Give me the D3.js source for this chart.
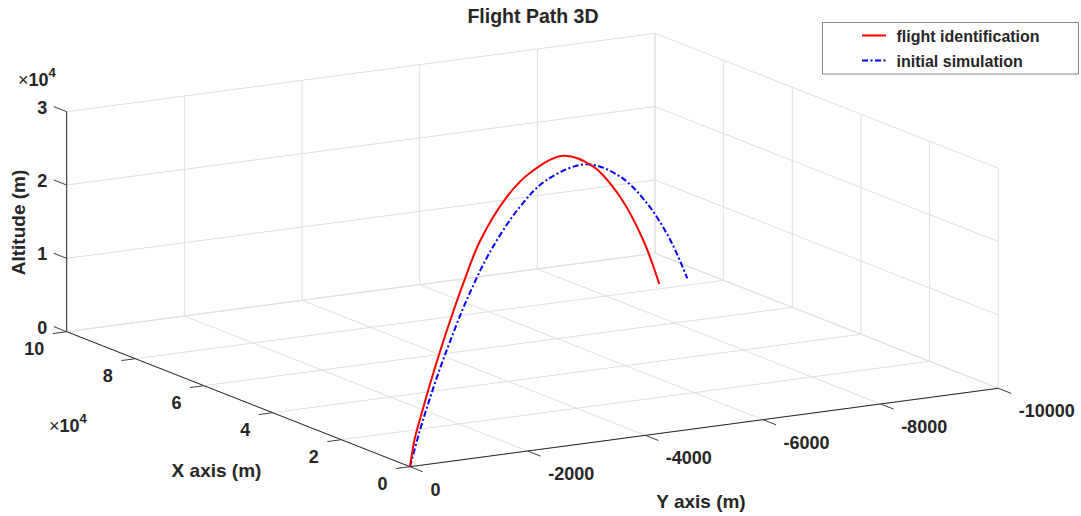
<!DOCTYPE html>
<html>
<head>
<meta charset="utf-8">
<script src="https://cdn.jsdelivr.net/npm/d3@7"></script>
<style>
  html, body { margin: 0; padding: 0; background: #fff; }
  svg { display: block; font-family: "Liberation Sans", Arial, Helvetica, sans-serif; font-weight: bold; }
</style>
</head>
<body>
<svg id="chart" width="1081" height="516"></svg>
<script>
// axis ticks (data units) and their labels
var xTicks = [0, 20000, 40000, 60000, 80000, 100000];
var xTickLabels = ['0', '2', '4', '6', '8', '10'];
var yTicks = [0, -2000, -4000, -6000, -8000, -10000];
var yTickLabels = ['0', '-2000', '-4000', '-6000', '-8000', '-10000'];
var zTicks = [0, 10000, 20000, 30000];
var zTickLabels = ['0', '1', '2', '3'];

// flight identification
var flightX = [0, 1660, 3880, 6070, 9390, 13270, 17680, 23220, 32080, 39800, 50850, 60810, 69670, 77390, 82700];
var flightY = [0, -180, -425, -665, -1030, -1455, -1940, -2545, -3515, -4360, -5575, -6665, -7635, -8480, -9063];
var flightZ = [0, 3410, 6110, 8630, 12170, 15870, 19730, 23780, 27110, 28060, 27090, 22600, 15830, 7600, 0];

// initial simulation
var simX = [0, 3020, 5530, 8550, 12080, 17140, 24170, 33240, 41310, 53390, 63550, 71620, 78650, 83790];
var simY = [0, -346, -634, -980, -1385, -1964, -2770, -3810, -4734, -6119, -7283, -8208, -9014, -9603];
var simZ = [0, 4080, 6950, 10120, 13360, 17480, 21870, 25270, 26430, 24870, 20060, 13960, 6800, 0];

(function () {
  'use strict';

  var svg = d3.select('#chart');

  // orthographic view: screen = O + sx*EX + sy*EY + sz*EZ
  var O = [410, 466.7], EX = [-343.3, -135], EY = [588.3, -78.4], EZ = [0, -220];
  var sx = d3.scaleLinear().domain([0, 100000]).range([0, 1]);
  var sy = d3.scaleLinear().domain([0, -10000]).range([0, 1]);
  var sz = d3.scaleLinear().domain([0, 30000]).range([0, 1]);
  function proj(x, y, z) {
    var a = sx(x), b = sy(y), c = sz(z);
    return [O[0] + a * EX[0] + b * EY[0] + c * EZ[0],
            O[1] + a * EX[1] + b * EY[1] + c * EZ[1]];
  }
  var X0 = 0, X1 = 100000, Y0 = 0, Y1 = -10000, Z0 = 0, Z1 = 30000;

  function seg(g, p, q, color, w) {
    g.append('line')
      .attr('x1', p[0]).attr('y1', p[1]).attr('x2', q[0]).attr('y2', q[1])
      .attr('stroke', color).attr('stroke-width', w || 1);
  }

  // grid on the floor and the two back walls
  var grid = svg.append('g').attr('class', 'grid');
  var gc = '#e0e0e0';
  xTicks.forEach(function (t) {
    seg(grid, proj(t, Y0, Z0), proj(t, Y1, Z0), gc);
    seg(grid, proj(t, Y1, Z0), proj(t, Y1, Z1), gc);
  });
  yTicks.forEach(function (t) {
    seg(grid, proj(X0, t, Z0), proj(X1, t, Z0), gc);
    seg(grid, proj(X1, t, Z0), proj(X1, t, Z1), gc);
  });
  zTicks.forEach(function (t) {
    seg(grid, proj(X1, Y0, t), proj(X1, Y1, t), gc);
    seg(grid, proj(X0, Y1, t), proj(X1, Y1, t), gc);
  });

  // axis lines
  var axes = svg.append('g').attr('class', 'axes');
  var ac = '#262626';
  seg(axes, proj(X0, Y0, Z0), proj(X1, Y0, Z0), ac);
  seg(axes, proj(X0, Y0, Z0), proj(X0, Y1, Z0), ac);
  seg(axes, proj(X1, Y0, Z0), proj(X1, Y0, Z1), ac);

  var tc = '#404040', tl = 14;
  var ux = [EX[0] / Math.hypot(EX[0], EX[1]), EX[1] / Math.hypot(EX[0], EX[1])];
  var uy = [EY[0] / Math.hypot(EY[0], EY[1]), EY[1] / Math.hypot(EY[0], EY[1])];

  function label(g, x, y, txt, anchor, size) {
    return g.append('text').attr('x', x).attr('y', y)
      .attr('text-anchor', anchor).attr('font-size', size || 18)
      .attr('fill', '#262626').text(txt);
  }

  // x ticks: pointing away along -Y
  xTicks.forEach(function (t, i) {
    var p = proj(t, Y0, Z0);
    seg(axes, p, [p[0] - uy[0] * tl, p[1] - uy[1] * tl], tc);
    label(axes, p[0] - 22.5, p[1] + 23.5, xTickLabels[i], 'end');
  });
  // y ticks: pointing away along -X
  yTicks.forEach(function (t, i) {
    var p = proj(X0, t, Z0);
    seg(axes, p, [p[0] - ux[0] * tl, p[1] - ux[1] * tl], tc);
    label(axes, p[0] + 20.5, p[1] + 29, yTickLabels[i], 'start');
  });
  // z ticks: pointing out along +X
  zTicks.forEach(function (t, i) {
    var p = proj(X1, Y0, t);
    seg(axes, p, [p[0] + ux[0] * tl, p[1] + ux[1] * tl], tc);
    label(axes, p[0] - 19.5, p[1] + 2, zTickLabels[i], 'end');
  });

  // exponent markers
  function expo(x, y) {
    var t = svg.append('text').attr('x', x).attr('y', y)
      .attr('font-size', 18).attr('fill', '#262626');
    t.append('tspan').attr('font-weight', 'normal').text('\u00d7');
    t.append('tspan').text('10');
    t.append('tspan').attr('font-size', 13).attr('dy', -9).text('4');
  }
  expo(18, 86);
  expo(49, 432);

  // axis titles
  label(svg, 533, 23, 'Flight Path 3D', 'middle', 19.5);
  label(svg, 216.5, 477, 'X axis (m)', 'middle', 19);
  label(svg, 701, 508, 'Y axis (m)', 'middle', 19);
  label(svg, 0, 0, 'Altitude (m)', 'middle', 19)
    .attr('transform', 'translate(25,222.5) rotate(-90)');

  // trajectories
  var line = d3.line().curve(d3.curveCatmullRom.alpha(0.5));
  function path3d(xs, ys, zs) {
    return line(xs.map(function (x, i) { return proj(x, ys[i], zs[i]); }));
  }
  svg.append('path').attr('d', path3d(simX, simY, simZ))
    .attr('fill', 'none').attr('stroke', '#0000ff').attr('stroke-width', 2)
    .attr('stroke-dasharray', '6,2.5,2,2.5');
  svg.append('path').attr('d', path3d(flightX, flightY, flightZ))
    .attr('fill', 'none').attr('stroke', '#ff0000').attr('stroke-width', 2);

  // legend
  var lg = svg.append('g').attr('class', 'legend');
  lg.append('rect').attr('x', 822.5).attr('y', 22.5).attr('width', 256).attr('height', 51.5)
    .attr('fill', '#fff').attr('stroke', '#8a8a8a').attr('stroke-width', 1);
  var items = [
    { name: 'flight identification', color: '#ff0000', dash: null },
    { name: 'initial simulation', color: '#0000ff', dash: '6,2.5,2,2.5' }
  ];
  items.forEach(function (d, i) {
    var y = 35.5 + i * 25;
    lg.append('line').attr('x1', 862).attr('x2', 886).attr('y1', y).attr('y2', y)
      .attr('stroke', d.color).attr('stroke-width', 2)
      .attr('stroke-dasharray', d.dash);
    label(lg, 896.5, y + 6, d.name, 'start', 16);
  });
})();
</script>
</body>
</html>
